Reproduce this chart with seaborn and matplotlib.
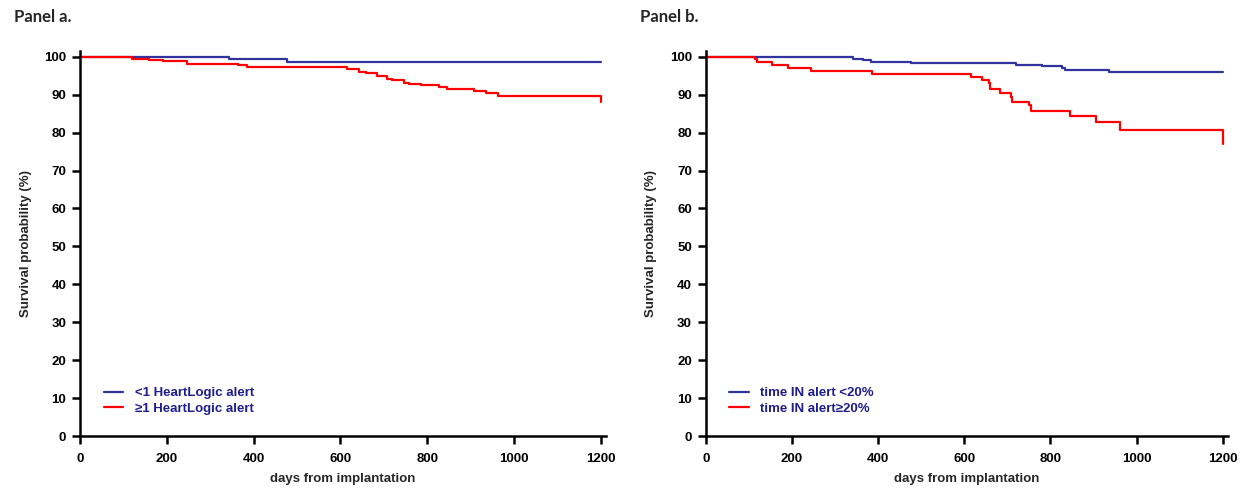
import pandas as pd
import seaborn as sns
import matplotlib.pyplot as plt

# Panel a: number of HeartLogic alerts
a_low_days = [0, 119, 344, 478, 1200]
a_low_surv = [100, 100, 99.3, 98.5, 98.5]
a_high_days = [0, 119, 158, 192, 246, 365, 385, 615, 642, 658, 685, 708, 719, 746,
               758, 785, 827, 846, 908, 935, 962, 1200]
a_high_surv = [100, 99.5, 99.1, 98.9, 98.2, 97.8, 97.2, 96.8, 96.1, 95.6, 95.0, 94.1, 93.9, 93.2,
               92.9, 92.6, 92.1, 91.5, 91.05, 90.4, 89.6, 88.0]

# Panel b: time spent in alert
b_low_days = [0, 114, 245, 341, 365, 384, 476, 719, 781, 827, 833, 935, 1201]
b_low_surv = [100, 100, 99.87, 99.4, 99.1, 98.6, 98.4, 97.9, 97.6, 97.1, 96.6, 95.9, 95.9]
b_high_days = [0, 114, 119, 155, 191, 244, 385, 615, 642, 657, 659, 682, 708, 711, 750,
               754, 756, 846, 906, 962, 1201]
b_high_surv = [100, 99.3, 98.5, 97.9, 97.1, 96.3, 95.5, 94.7, 93.8, 93.1, 91.4, 90.4, 89.4, 88.2, 87.4,
               86.7, 85.8, 84.5, 82.8, 80.7, 77.0]

labels_a = ['<1 HeartLogic alert', '\u22651 HeartLogic alert']
labels_b = ['time IN alert <20%', 'time IN alert\u226520%']
yticks = list(range(0, 101, 10))
xticks = list(range(0, 1201, 200))

BLUE = '#33339e'
RED = '#ff0000'

sns.set_style('ticks')
plt.rcParams['font.family'] = ['Liberation Sans', 'DejaVu Sans']


def make_df(d1, s1, d2, s2, labels):
    return pd.concat([
        pd.DataFrame({'days': d1, 'surv': s1, 'group': labels[0]}),
        pd.DataFrame({'days': d2, 'surv': s2, 'group': labels[1]}),
    ], ignore_index=True)


fig = plt.figure(figsize=(12.51, 4.93), dpi=100)
ax1 = fig.add_axes([0.064, 0.1156, 0.4204, 0.78])
ax2 = fig.add_axes([0.5641, 0.1156, 0.4175, 0.78])

panels = [
    (ax1, make_df(a_low_days, a_low_surv, a_high_days, a_high_surv, labels_a), labels_a, 'Panel a.'),
    (ax2, make_df(b_low_days, b_low_surv, b_high_days, b_high_surv, labels_b), labels_b, 'Panel b.'),
]

for ax, df, labels, title in panels:
    sns.lineplot(data=df, x='days', y='surv', hue='group', hue_order=labels,
                 palette=[BLUE, RED], estimator=None, sort=False,
                 drawstyle='steps-post', linewidth=1.6, ax=ax)
    ax.set_xlim(0, 1212)
    ax.set_ylim(0, 101.4)
    ax.set_xticks(xticks)
    ax.set_yticks(yticks)
    for s in ['top', 'right']:
        ax.spines[s].set_visible(False)
    for s in ['left', 'bottom']:
        ax.spines[s].set_linewidth(1.8)
        ax.spines[s].set_color('black')
    ax.tick_params(axis='both', direction='out', length=6, width=1.8,
                   labelsize=9.5, colors='black', pad=4)
    ax.tick_params(axis='x', pad=6)
    for lab in ax.get_xticklabels() + ax.get_yticklabels():
        lab.set_fontweight('bold')
    ax.set_xlabel('days from implantation', fontsize=9.5, fontweight='bold', labelpad=6)
    ax.set_ylabel('Survival probability (%)', fontsize=9.5, fontweight='bold', labelpad=9)
    leg = ax.legend(loc='upper left', bbox_to_anchor=(0.022, 0.158), frameon=False,
                    fontsize=9.5, handlelength=1.5, handletextpad=0.85, labelspacing=0.25,
                    labelcolor='#1f1f8c')
    for t in leg.get_texts():
        t.set_fontweight('bold')
    ax.text(-0.125, 1.09, title, transform=ax.transAxes, fontsize=12,
            fontweight='bold', family=['Lato', 'DejaVu Sans'], ha='left', va='center')

fig.savefig('out.png', dpi=100)
